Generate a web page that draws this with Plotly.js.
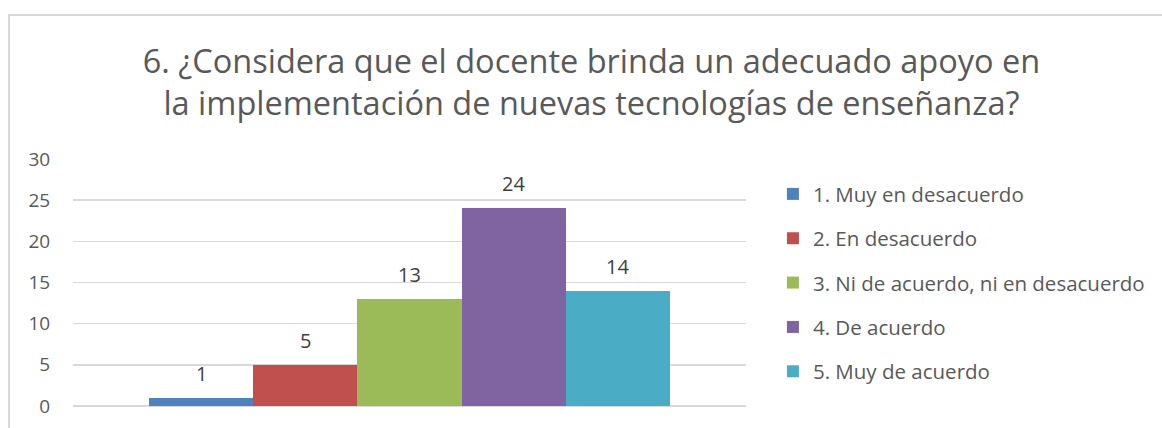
<!DOCTYPE html>
<html>
<head>
<meta charset="utf-8">
<script src="https://cdn.plot.ly/plotly-3.0.1.min.js"></script>
<style>
html,body{margin:0;padding:0;background:#fff;overflow:hidden;}
#frame{position:absolute;left:8px;top:14px;width:1200px;height:500px;border:2px solid #d9d9d9;box-sizing:border-box;}
#chart{position:absolute;left:0;top:0;width:1162px;height:428px;}
</style>
</head>
<body>
<div id="frame"></div>
<div id="chart"></div>
<script>
const categories = ['1. Muy en desacuerdo','2. En desacuerdo','3. Ni de acuerdo, ni en desacuerdo','4. De acuerdo','5. Muy de acuerdo'];
const seriesValues = [1, 5, 13, 24, 14];
const seriesColors = ['#4f81bd','#c0504d','#9bbb59','#8064a2','#4bacc6'];
const yTicks = [0, 5, 10, 15, 20, 25, 30];
const titleText = '6. ¿Considera que el docente brinda un adecuado apoyo en<br>la implementación de nuevas tecnologías de enseñanza?';

const FONT = 'Open Sans, Noto Sans, sans-serif';
const traces = categories.map((name, i) => ({
  type: 'bar',
  name: name,
  x: [name],
  y: [seriesValues[i]],
  marker: {color: seriesColors[i]},
  legendgroup: 'g' + i,
  hoverinfo: 'none'
}));

const annotations = categories.map((name, i) => ({
  x: name, y: seriesValues[i], xref: 'x', yref: 'y',
  text: String(seriesValues[i]),
  showarrow: false, yanchor: 'bottom', yshift: 9,
  font: {family: FONT, size: 20, color: '#404040'}
}));

const layout = {
  width: 1162, height: 428,
  margin: {l: 73, r: 414, t: 159, b: 22},
  paper_bgcolor: 'rgba(0,0,0,0)',
  plot_bgcolor: 'rgba(0,0,0,0)',
  barmode: 'overlay',
  bargap: 0,
  title: {
    text: titleText,
    font: {family: FONT, size: 32.5, color: '#595959'},
    x: 0.509, xref: 'container', xanchor: 'center',
    y: 1 - 73/428, yref: 'container', yanchor: 'top'
  },
  xaxis: {
    type: 'category', range: [-1.23, 5.23],
    showticklabels: false, showgrid: false, zeroline: false, showline: false, fixedrange: true
  },
  yaxis: {
    range: [0, 30], tickvals: yTicks, ticktext: yTicks.map(String),
    showgrid: true, gridcolor: '#d9d9d9', gridwidth: 1.5,
    zeroline: true, zerolinecolor: '#d9d9d9', zerolinewidth: 1.5,
    showline: false,
    ticks: 'outside', ticklen: 18, tickcolor: 'rgba(0,0,0,0)',
    tickfont: {family: FONT, size: 19, color: '#595959'},
    fixedrange: true
  },
  annotations: annotations,
  showlegend: true,
  legend: {
    x: 1.04, xanchor: 'left', y: 0.939, yanchor: 'top',
    traceorder: 'grouped', tracegroupgap: 14.7,
    font: {family: FONT, size: 20.5, color: '#595959'},
    itemwidth: 30, bgcolor: 'rgba(0,0,0,0)'
  }
};

Plotly.newPlot('chart', traces, layout, {staticPlot: true, displayModeBar: false});
</script>
</body>
</html>
